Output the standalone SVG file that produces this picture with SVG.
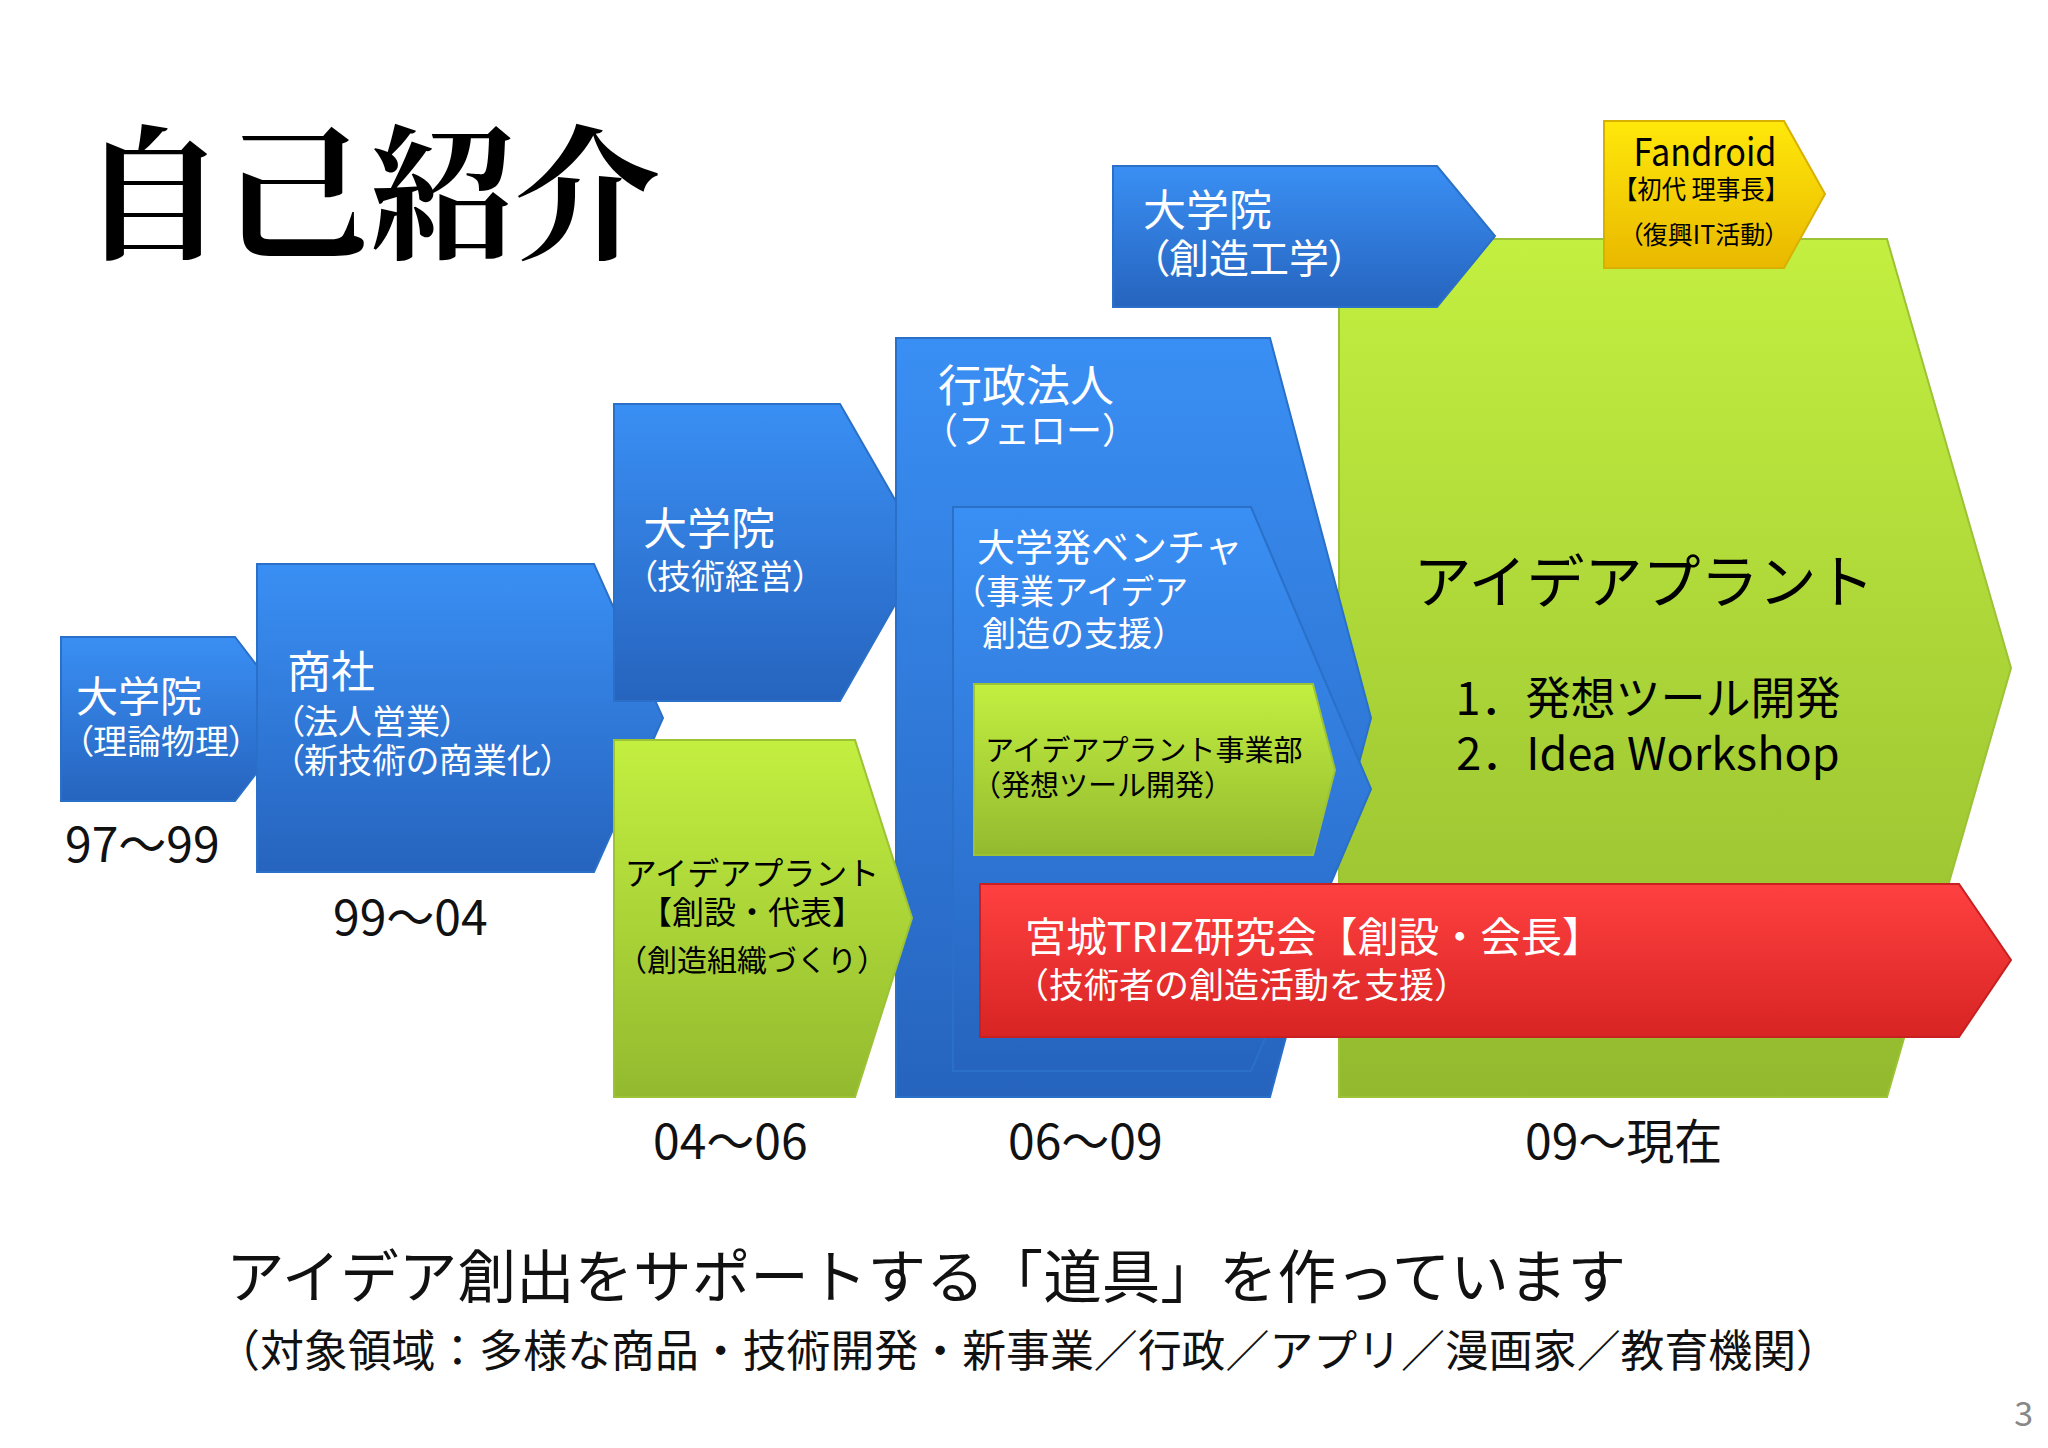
<svg xmlns="http://www.w3.org/2000/svg" width="2048" height="1448" viewBox="0 0 2048 1448">
<defs>
<linearGradient id="gBlue" x1="0" y1="0" x2="0" y2="1"><stop offset="0" stop-color="#3a8ff4"/><stop offset="1" stop-color="#2664be"/></linearGradient>
<linearGradient id="gGreen" x1="0" y1="0" x2="0" y2="1"><stop offset="0" stop-color="#c3ef40"/><stop offset="1" stop-color="#93ba2f"/></linearGradient>
<linearGradient id="gRed" x1="0" y1="0" x2="0" y2="1"><stop offset="0" stop-color="#ff4040"/><stop offset="1" stop-color="#d82424"/></linearGradient>
<linearGradient id="gYellow" x1="0" y1="0" x2="0" y2="1"><stop offset="0" stop-color="#ffe80a"/><stop offset="1" stop-color="#e9b800"/></linearGradient>
<style>
text{font-family:"Noto Sans CJK JP","Noto Sans",sans-serif;}
.blue{fill:url(#gBlue);stroke:#2a70c8;stroke-width:2;}
.green{fill:url(#gGreen);stroke:#9cc235;stroke-width:2;}
.red{fill:url(#gRed);stroke:#c82020;stroke-width:2;}
.yellow{fill:url(#gYellow);stroke:#d8b000;stroke-width:2;}
.w{fill:#ffffff;}
.k{fill:#000000;}
.palt{font-feature-settings:"palt";}
.yr{font-size:48px;fill:#111;}
</style>
</defs>
<rect width="2048" height="1448" fill="#ffffff"/>
<text x="80" y="248" font-size="145" font-weight="bold" style="font-family:'Noto Serif CJK JP','Noto Sans CJK JP',serif" fill="#000">自己紹介</text>

<g id="node-ideaplant-main"><polygon class="green" points="1339,239 1887,239 2011,668 1887,1097 1339,1097"/>
<text x="1644" y="603" font-size="58" text-anchor="middle" class="k">アイデアプラント</text>
<text x="1648" y="715" font-size="45" text-anchor="middle" class="k">1．発想ツール開発</text>
<text x="1648" y="770" font-size="45" text-anchor="middle" class="k">2．Idea Workshop</text></g>

<g id="node-grad1"><polygon class="blue" points="61,637 235,637 298,719 235,801 61,801"/>
<text x="76" y="712" font-size="42" class="w">大学院</text>
<text x="76" y="754" font-size="34" class="w palt">（理論物理）</text></g>

<g id="node-shosha"><polygon class="blue" points="257,564 594,564 663,718 594,872 257,872"/>
<text x="287" y="688" font-size="44" class="w">商社</text>
<text x="287" y="734" font-size="34" class="w palt">（法人営業）</text>
<text x="287" y="773" font-size="34" class="w palt">（新技術の商業化）</text></g>

<g id="node-grad2"><polygon class="blue" points="614,404 840,404 925,552 840,701 614,701"/>
<text x="643" y="545" font-size="44" class="w">大学院</text>
<text x="640" y="589" font-size="34" class="w palt">（技術経営）</text></g>

<g id="node-gyosei"><polygon class="blue" points="896,338 1270,338 1371,718 1270,1097 896,1097"/>
<text x="938" y="402" font-size="44" class="w">行政法人</text>
<text x="922" y="444" font-size="36" class="w">（フェロー）</text></g>

<g id="node-venture"><polygon class="blue" points="953,507 1251,507 1371,789 1251,1071 953,1071"/>
<text x="977" y="561" font-size="38" class="w">大学発ベンチャ</text>
<text x="952" y="604" font-size="34" class="w">（事業アイデア</text>
<text x="982" y="646" font-size="34" class="w">創造の支援）</text></g>

<g id="node-jigyobu"><polygon class="green" points="974,684 1313,684 1335,770 1313,855 974,855"/>
<text x="985" y="761" font-size="29" class="k">アイデアプラント事業部</text>
<text x="972" y="796" font-size="29" class="k">（発想ツール開発）</text></g>

<g id="node-ideaplant-founder"><polygon class="green" points="614,740 855,740 912,918 855,1097 614,1097"/>
<text x="752" y="885" font-size="32" text-anchor="middle" class="k">アイデアプラント</text>
<text x="752" y="924" font-size="32" text-anchor="middle" class="k">【創設・代表】</text>
<text x="752" y="971" font-size="30" text-anchor="middle" class="k">（創造組織づくり）</text></g>

<g id="node-triz"><polygon class="red" points="980,884 1959,884 2011,960 1959,1037 980,1037"/>
<text x="1025" y="952" font-size="41" textLength="578" class="w">宮城TRIZ研究会【創設・会長】</text>
<text x="1014" y="998" font-size="35" class="w">（技術者の創造活動を支援）</text></g>

<g id="node-grad3"><polygon class="blue" points="1113,166 1437,166 1495,236 1437,307 1113,307"/>
<text x="1143" y="226" font-size="43" class="w">大学院</text>
<text x="1149" y="273" font-size="40" class="w palt">（創造工学）</text></g>

<g id="node-fandroid"><polygon class="yellow" points="1604,121 1784,121 1825,194 1784,268 1604,268"/>
<text x="1705" y="166" font-size="38" text-anchor="middle" textLength="143" lengthAdjust="spacingAndGlyphs" class="k">Fandroid</text>
<text x="1701" y="199" font-size="26" text-anchor="middle" textLength="176" lengthAdjust="spacingAndGlyphs" class="k">【初代 理事長】</text>
<text x="1704" y="244" font-size="25" text-anchor="middle" class="k palt">（復興IT活動）</text></g>

<g id="connectors"></g>

<g id="years">
<text x="65" y="862" class="yr">97～99</text>
<text x="333" y="935" class="yr">99～04</text>
<text x="653" y="1159" class="yr">04～06</text>
<text x="1008" y="1159" class="yr">06～09</text>
<text x="1525" y="1159" class="yr">09～現在</text>
</g>

<text x="226" y="1298" font-size="58" textLength="1400" lengthAdjust="spacingAndGlyphs" fill="#111">アイデア創出をサポートする「道具」を作っています</text>
<text x="216" y="1367" font-size="44" textLength="1624" lengthAdjust="spacingAndGlyphs" fill="#111">（対象領域：多様な商品・技術開発・新事業／行政／アプリ／漫画家／教育機関）</text>
<text x="2033" y="1426" font-size="34" text-anchor="end" fill="#888">3</text>
</svg>
